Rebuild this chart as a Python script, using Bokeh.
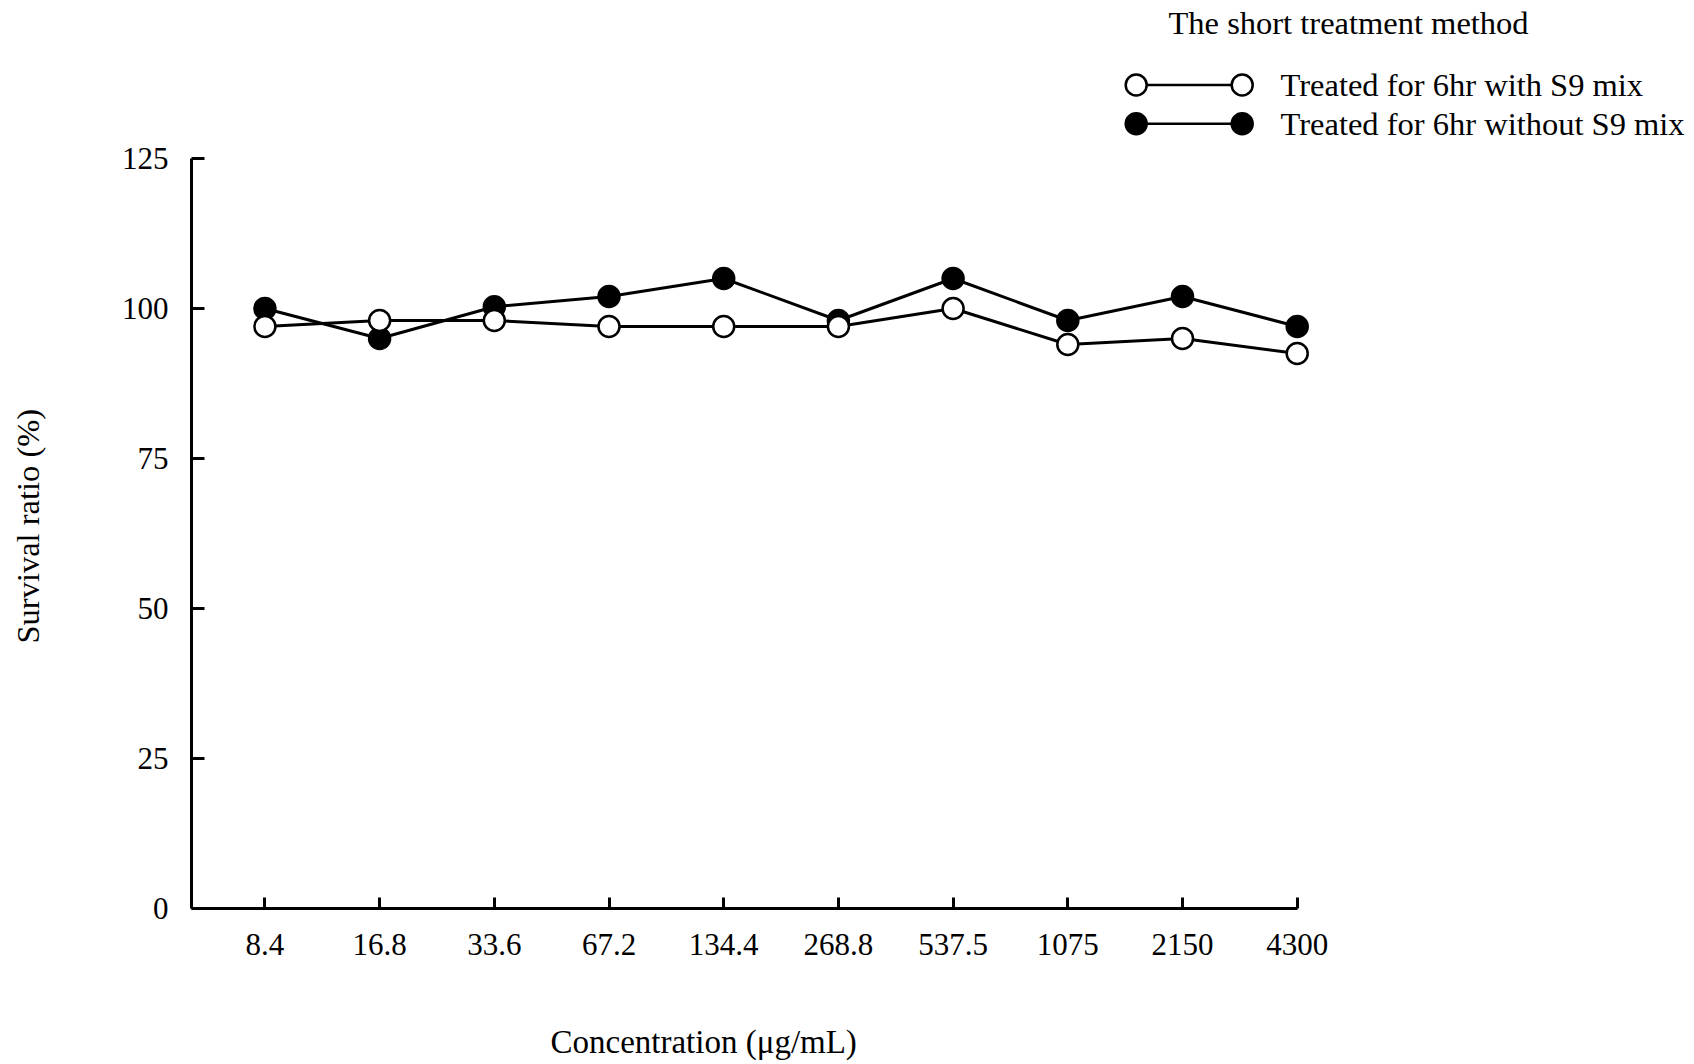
from bokeh.plotting import figure
from bokeh.models import Range1d, FixedTicker, Title, LinearAxis
from bokeh.embed import file_html
from bokeh.resources import INLINE
from bokeh.core.properties import value

# ---- data ----
concentrations = ["8.4", "16.8", "33.6", "67.2", "134.4", "268.8", "537.5", "1075", "2150", "4300"]
with_s9 = [97, 98, 98, 97, 97, 97, 100, 94, 95, 92.5]
without_s9 = [100, 95, 100.3, 102, 105, 98, 105, 98, 102, 97]
y_ticks = [0, 25, 50, 75, 100, 125]
legend_title = "The short treatment method"
label_with = "Treated for 6hr with S9 mix"
label_without = "Treated for 6hr without S9 mix"
x_title = "Concentration (\u03bcg/mL)"
y_title = "Survival ratio (%)"

FONT = "Liberation Serif"
W, H = 1694, 1064
FL, FB = 191, 156          # frame left border, bottom border
LW = 3
ALW = 3
MS = 21

n = len(concentrations)
xs = list(range(n))
X0 = -0.64
PX_PER_X = 114.7
frame_w = W - FL
frame_h = H - FB
x_end = X0 + frame_w / PX_PER_X
Y_MAX = 125
y_end = Y_MAX * frame_h / 750.0   # 6 px per unit

p = figure(width=W, height=H,
           x_range=Range1d(X0, x_end), y_range=Range1d(0, y_end),
           output_backend="svg", toolbar_location=None,
           min_border_left=FL, min_border_right=0,
           min_border_top=0, min_border_bottom=FB)
p.outline_line_color = None
p.xgrid.visible = False
p.ygrid.visible = False
p.background_fill_color = "white"
p.border_fill_color = "white"

# pixel-like ranges for the legend
p.extra_x_ranges = {"px": Range1d(FL, W)}
p.extra_y_ranges = {"px": Range1d(frame_h, 0)}

xa = p.xaxis[0]
xa.ticker = FixedTicker(ticks=xs)
xa.major_label_overrides = {i: c for i, c in zip(xs, concentrations)}
xa.bounds = (X0, n - 1)
ya = p.yaxis[0]
ya.ticker = FixedTicker(ticks=y_ticks)
ya.bounds = (0, Y_MAX)

for ax in (xa, ya):
    ax.axis_line_width = ALW
    ax.axis_line_color = "black"
    ax.major_tick_line_width = ALW
    ax.major_tick_line_color = "black"
    ax.major_tick_out = 0
    ax.minor_tick_line_color = None
    ax.major_label_text_font = FONT
    ax.major_label_text_font_size = "31px"
    ax.major_label_text_color = "black"

xa.major_tick_in = 11
xa.major_label_standoff = 25
ya.major_tick_in = 13
ya.major_label_standoff = 23


def spacer(size, tick, **kw):
    # white (invisible) outer axis that only reserves space before the axis title
    ax = LinearAxis(ticker=FixedTicker(ticks=[tick]), major_label_overrides={tick: ""},
                    axis_line_color="white", axis_line_width=1,
                    major_tick_line_color="white", major_tick_line_width=1,
                    minor_tick_line_color=None,
                    major_tick_in=0, major_tick_out=size, minor_tick_in=0, minor_tick_out=0,
                    major_label_standoff=0, major_label_text_font_size="1px",
                    major_label_text_color="white", **kw)
    return ax


# axis titles placed as side-panel titles so they sit where the original ones do
p.add_layout(spacer(65, 12), "below")
p.add_layout(Title(text=x_title, align="left", offset=359, vertical_align="middle",
                   standoff=0, text_font=FONT, text_font_size="33px",
                   text_font_style="normal", text_color="black"), "below")
p.add_layout(spacer(72, 140), "left")
p.add_layout(Title(text=y_title, align="left", offset=265, vertical_align="middle",
                   standoff=0, text_font=FONT, text_font_size="32.5px",
                   text_font_style="normal", text_color="black"), "left")

# ---- data series ----
p.line(xs, without_s9, line_width=LW, line_color="black")
p.scatter(xs, without_s9, size=MS, marker="circle", fill_color="black",
          line_color="black", line_width=2.5)
p.line(xs, with_s9, line_width=LW, line_color="black")
p.scatter(xs, with_s9, size=MS, marker="circle", fill_color="white",
          line_color="black", line_width=2.5)

# ---- legend ----
lx0, lx1, ltx = 1135.7, 1241.7, 1280
rows_y = [84.5, 123.3]
p.text(x=[1168], y=[22], text=[legend_title], x_range_name="px", y_range_name="px",
       text_font=value(FONT), text_font_size="32.5px", text_baseline="middle",
       text_align="left", text_color="black")
fills = ["white", "black"]
labels = [label_with, label_without]
for yy, fc, lab in zip(rows_y, fills, labels):
    p.segment(x0=[lx0], y0=[yy], x1=[lx1], y1=[yy], line_width=2.5, line_color="black",
              x_range_name="px", y_range_name="px")
    p.scatter(x=[lx0, lx1], y=[yy, yy], size=MS, marker="circle", fill_color=fc,
              line_color="black", line_width=2.5, x_range_name="px", y_range_name="px")
    p.text(x=[ltx], y=[yy], text=[lab], text_font=value(FONT), text_font_size="32.5px",
           text_baseline="middle", text_align="left", text_color="black",
           x_range_name="px", y_range_name="px")

open("out.html", "w").write(file_html(p, INLINE))
